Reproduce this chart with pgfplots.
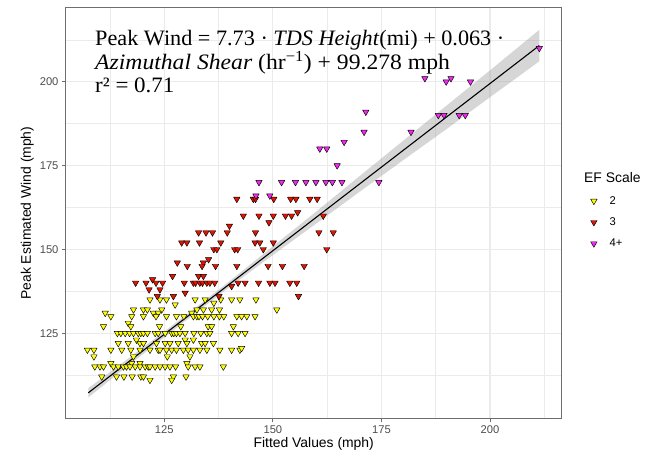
\documentclass[border=0pt]{standalone}
\usepackage{fontspec}
\setmainfont{Liberation Sans}
\newfontfamily\eqfont{Liberation Serif}
\usepackage{pgfplots}
\pgfplotsset{compat=1.18}
\usetikzlibrary{calc}
\definecolor{efY}{RGB}{255,255,0}
\definecolor{efR}{RGB}{228,20,0}
\definecolor{efM}{RGB}{240,40,240}
\definecolor{grid92}{RGB}{235,235,235}
\definecolor{grey30}{RGB}{77,77,77}
\definecolor{border}{RGB}{110,110,110}
\definecolor{ribbon}{RGB}{153,153,153}

\pgfplotstableread{
x y
121.7 135
124.0 135
125.5 135
132.1 135
134.4 135
138.0 135
140.5 135
142.4 135
146.1 135
136.4 134
127.5 133.5
117.9 132
120.2 132
121.1 132
124.4 132
132.5 132
134.0 132
135.9 132
137.7 132
150.9 132
111.4 131
122.5 131
123.6 131
131.3 131
112.7 130
117.5 130
120.2 130
123.1 130
125.5 130
127.8 130
129.5 130
131.7 130
132.5 130
133.0 130
133.8 130
135.0 130
136.4 130
137.7 130
138.7 130
141.7 130
142.8 130
144.0 130
145.9 130
116.7 128
111.0 127
117.3 127
123.9 127
128.8 127
135.1 127
135.9 127
140.9 127
114.2 125
115.0 125
116.0 125
117.0 125
117.9 125
119.0 125
119.6 125
120.2 125
121.1 125
122.9 125
123.6 125
125.2 125
126.7 125
127.2 125
127.8 125
128.6 125
129.8 125
131.8 125
133.4 125
134.8 125
135.5 125
140.5 125
142.0 125
143.6 125
118.6 123
129.8 123
131.7 123
114.4 122
116.7 122
119.4 122
120.2 122
123.2 122
125.2 122
126.3 122
128.2 122
130.2 122
133.6 122
134.4 122
136.3 122
107.3 120
108.8 120
112.7 120
115.2 120
117.3 120
119.4 120
121.7 120
123.6 120
124.0 120
125.5 120
126.7 120
127.8 120
129.4 120
130.5 120
131.7 120
133.2 120
134.8 120
137.8 120
140.5 120
142.4 120
142.8 120.5
108.8 118
117.9 118
125.7 118
130.9 118
112.7 116
117.5 116
119.4 116
130.2 116
109.0 115
110.2 115
111.0 115
113.3 115
114.4 115
115.6 115
116.3 115
117.1 115
118.3 115
119.4 115
120.6 115
121.3 115
121.7 115
122.9 115
124.0 115
125.2 115
126.3 115
127.6 115
130.5 115
132.1 115
133.2 115
138.6 115
110.6 112
114.0 112
115.7 112
117.6 112
119.6 112
120.2 112
127.1 112
130.0 112
121.7 111
126.7 111
}\efTwo

\pgfplotstableread{
x y
141.7 165
145.5 165
146.0 165
150.2 165
154.1 165
155.3 165
158.5 165
160.2 165
155.7 161
143.2 160
146.8 160
150.1 160
152.9 160
154.3 160
161.6 160
149.1 158
140.0 157
132.9 155
134.6 155
136.1 155
139.5 155
146.0 155
160.6 155
163.9 155
129.0 152
130.2 152
133.1 152
138.0 152
145.9 152
147.0 152
150.1 152
136.4 150
137.1 150
141.2 150
141.9 150
147.8 150
162.4 150
135.2 147
128.0 146
134.0 146
130.3 145
133.7 145
136.8 145
141.7 145
148.9 145
152.2 145
157.2 145
126.9 142
132.9 142
134.0 142
122.3 141
118.4 140
120.8 140
123.1 140
124.6 140
129.6 140
131.7 140
132.2 140
133.2 140
133.8 140
134.8 140
135.5 140
136.6 140
142.0 140
143.6 140
146.7 140
149.3 140
150.5 140
153.9 140
155.5 140
140.5 139
121.5 138
124.0 138
129.8 137
123.4 136
127.1 136
137.6 136
155.9 136
}\efThree

\pgfplotstableread{
x y
171.0 185
166.4 182
160.8 180
162.4 180
164.8 175
146.8 170
152.0 170
155.2 170
157.6 170
159.9 170
162.2 170
163.7 170
165.9 170
174.4 170
146.1 166
149.3 166
185.0 201
189.9 200
191.0 201
195.5 200
181.8 185
188.1 190
189.4 190
192.9 190
194.3 190
211.35 210
171.4 191
}\efFour

\pgfplotstableread{
x y
107.5 105.8
115 113.6
125 123.7
132 130.8
140 138.7
150 148.3
160 157.7
170 167.2
180 176.6
190 185.9
200 195.4
211.35 206.1
211.35 215.5
200 203.4
190 192.9
180 182.4
170 171.9
160 161.3
150 150.9
140 140.5
132 132.4
125 125.5
115 115.8
107.5 108.6
}\ribbonT

\begin{document}
\begin{tikzpicture}
\begin{axis}[
  name=ax,
  scale only axis, width=496bp, height=410.3bp,
  xmin=102.3, xmax=216.5, ymin=99.6, ymax=222,
  xtick={125,150,175,200}, ytick={125,150,175,200},
  minor xtick={112.5,137.5,162.5,187.5,212.5},
  minor ytick={112.5,137.5,162.5,187.5,212.5},
  grid=both,
  major grid style={grid92, line width=1.1bp},
  minor grid style={grid92, line width=0.55bp},
  axis line style={border, line width=1bp},
  tick pos=left,
  tick align=outside,
  major tick length=3.7bp, minor tick length=0bp,
  major tick style={border, line width=0.9bp},
  ticklabel style={font=\fontsize{11.2bp}{13bp}\selectfont, text=grey30},
  /pgf/number format/assume math mode=true,
  xlabel={Fitted Values (mph)},
  ylabel={Peak Estimated Wind (mph)},
  label style={font=\fontsize{13.9bp}{16bp}\selectfont},
  xlabel style={at={(axis description cs:0.5,-0.07)}, anchor=base},
  ylabel style={at={(axis description cs:-0.07,0.5)}, anchor=base},
  clip=false,
  legend style={at={(axis description cs:1.058,0.545)}, anchor=north west,
    draw=none, fill=none, font=\fontsize{11.2bp}{13bp}\selectfont,
    row sep=9bp, inner sep=0pt, nodes={inner sep=1.5bp},
    /tikz/every odd column/.append style={column sep=11bp}},
  legend cell align=left,
  legend image code/.code={\draw[mark repeat=2,mark phase=2,#1] plot coordinates {(0bp,0bp) (5bp,0bp) (10bp,0bp)};},
  every axis plot/.append style={line join=round},
]
\addplot[only marks, mark=triangle*, mark size=3.7bp,
  mark options={rotate=180, fill=efY, draw=black, line width=0.45bp}]
  table[x=x,y=y] {\efTwo};
\addlegendentry{2}
\addplot[only marks, mark=triangle*, mark size=3.7bp,
  mark options={rotate=180, fill=efR, draw=black, line width=0.45bp}]
  table[x=x,y=y] {\efThree};
\addlegendentry{3}
\addplot[only marks, mark=triangle*, mark size=3.7bp,
  mark options={rotate=180, fill=efM, draw=black, line width=0.45bp}]
  table[x=x,y=y] {\efFour};
\addlegendentry{4+}
\addplot[forget plot, draw=none, fill=ribbon, fill opacity=0.4] table[x=x,y=y] {\ribbonT} -- cycle;
\addplot[forget plot, black, line width=1.1bp] coordinates {(107.5,107.2) (211.35,210.8)};

\node[anchor=base west, inner sep=0pt, font=\fontsize{13.9bp}{16bp}\selectfont] at (axis description cs:1.045,0.574) {EF Scale};

\node[anchor=base west, inner sep=0pt, font=\eqfont\fontsize{22bp}{24bp}\selectfont] at (axis description cs:0.0591,0.9074)
  {\scalebox{1.01}[1]{Peak Wind = 7.73 · \textit{TDS Height}(mi) + 0.063 ·}};
\node[anchor=base west, inner sep=0pt, font=\eqfont\fontsize{22bp}{24bp}\selectfont] at (axis description cs:0.0591,0.8513)
  {\scalebox{1.075}[1]{\textit{Azimuthal Shear} (hr\textsuperscript{−1}) + 99.278 mph}};
\node[anchor=base west, inner sep=0pt, font=\eqfont\fontsize{22bp}{24bp}\selectfont] at (axis description cs:0.0591,0.7936)
  {\scalebox{1.045}[1]{r² = 0.71}};
\end{axis}
\pgfresetboundingbox
\path[use as bounding box] ($(ax.south west)+(-65.7bp,-36.7bp)$) rectangle ++(655bp,455bp);
\end{tikzpicture}
\end{document}
